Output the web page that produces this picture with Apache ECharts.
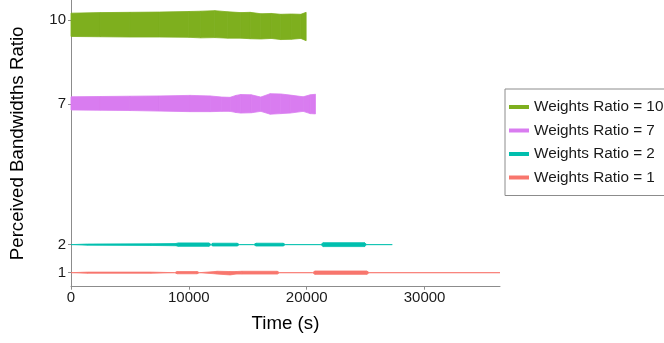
<!DOCTYPE html>
<html>
<head>
    <meta charset="utf-8">
    <title>Perceived Bandwidths Ratio</title>
    <script src="https://cdn.jsdelivr.net/npm/echarts@6/dist/echarts.min.js"></script>
</head>
<body style="margin:0">
<div id="main" style="width: 664px;height:343px;"></div>
<script type="text/javascript">
    // legend names and colours
    const seriesNames = ['Weights Ratio = 10', 'Weights Ratio = 7', 'Weights Ratio = 2', 'Weights Ratio = 1'];
    const seriesColors = ['#7EAF1E', '#D97CF0', '#00BFAE', '#F8766D'];

    // axis ticks
    const xTicks = [0, 10000, 20000, 30000];
    const yTicks = [1, 2, 7, 10];

    // each noisy trace is drawn as its envelope: time, upper edge, lower edge
    const r10Time = [0, 2500, 5000, 7500, 10000, 11000, 12200, 13300, 14400, 15200, 16100, 17000, 17800, 18700, 19500, 19950];
    const r10High = [10.25, 10.27, 10.28, 10.29, 10.31, 10.32, 10.34, 10.30, 10.27, 10.28, 10.23, 10.24, 10.21, 10.22, 10.21, 10.28];
    const r10Low  = [9.42, 9.41, 9.40, 9.40, 9.39, 9.37, 9.38, 9.36, 9.36, 9.34, 9.33, 9.35, 9.31, 9.32, 9.35, 9.27];

    const r7Time = [0, 2500, 5000, 7500, 10100, 11800, 12800, 13500, 14000, 14400, 15300, 16100, 16900, 17800, 18600, 19700, 20300, 20740];
    const r7High = [7.27, 7.28, 7.29, 7.30, 7.32, 7.30, 7.26, 7.25, 7.32, 7.35, 7.34, 7.26, 7.38, 7.37, 7.33, 7.27, 7.34, 7.36];
    const r7Low  = [6.80, 6.79, 6.78, 6.76, 6.74, 6.74, 6.75, 6.75, 6.71, 6.69, 6.70, 6.75, 6.65, 6.67, 6.69, 6.75, 6.67, 6.66];

    const r2Time = [0, 1400, 6800, 8900, 9100, 11700, 11900, 12000, 14100, 14300, 15500, 15700, 18000, 18200, 21200, 21400, 24900, 25100, 27260];
    const r2High = [2.00, 2.02, 2.03, 2.04, 2.06, 2.06, 2.00, 2.05, 2.05, 2.00, 2.00, 2.05, 2.05, 2.00, 2.00, 2.07, 2.07, 2.00, 2.00];
    const r2Low  = [2.00, 1.98, 1.97, 1.96, 1.94, 1.94, 2.00, 1.95, 1.95, 2.00, 2.00, 1.95, 1.95, 2.00, 2.00, 1.93, 1.93, 2.00, 2.00];

    const r1Time = [0, 1400, 6800, 8800, 9000, 10700, 10900, 12200, 12400, 13500, 14000, 14500, 17500, 17700, 20500, 20700, 25100, 25300, 36400];
    const r1High = [1.00, 1.02, 1.02, 1.00, 1.04, 1.04, 1.00, 1.04, 1.05, 1.04, 1.04, 1.05, 1.05, 1.00, 1.00, 1.06, 1.06, 1.00, 1.00];
    const r1Low  = [1.00, 0.98, 0.98, 1.00, 0.96, 0.96, 1.00, 0.96, 0.95, 0.92, 0.95, 0.95, 0.95, 1.00, 1.00, 0.94, 0.94, 1.00, 1.00];

    const traces = [
        [r10Time, r10High, r10Low],
        [r7Time, r7High, r7Low],
        [r2Time, r2High, r2Low],
        [r1Time, r1High, r1Low]
    ];

    // one custom series per trace: a filled strip between the two edges
    function bandSeries(idx) {
        const t = traces[idx][0], hi = traces[idx][1], lo = traces[idx][2];
        const color = seriesColors[idx];
        const data = t.map(function (x, i) { return [x, hi[i], lo[i]]; });
        return {
            name: seriesNames[idx],
            type: 'custom',
            silent: true,
            itemStyle: { color: color },
            encode: { x: 0, y: [1, 2] },
            data: data,
            renderItem: function (params, api) {
                const i = params.dataIndex;
                if (i >= data.length - 1) {
                    return null;
                }
                const a = data[i], b = data[i + 1];
                const pts = [
                    api.coord([a[0], a[1]]),
                    api.coord([b[0], b[1]]),
                    api.coord([b[0], b[2]]),
                    api.coord([a[0], a[2]])
                ];
                return {
                    type: 'polygon',
                    shape: { points: pts },
                    style: { fill: color, stroke: color, lineWidth: 0.8 }
                };
            }
        };
    }

    const series = [];
    for (let i = 0; i < traces.length; i++) {
        series.push(bandSeries(i));
    }

    const myChart = echarts.init(document.getElementById('main'));
    myChart.setOption({
        animation: false,
        textStyle: { fontFamily: 'Liberation Sans, Arial, sans-serif' },
        grid: { left: 70, right: 164, top: 0, bottom: 56.3 },
        legend: {
            data: seriesNames,
            orient: 'vertical',
            left: 505,
            top: 89,
            icon: 'rect',
            itemWidth: 20,
            itemHeight: 4,
            itemGap: 5.5,
            padding: [9, 30, 9, 4],
            borderColor: '#8c8c8c',
            borderWidth: 1,
            selectedMode: false,
            textStyle: { fontSize: 15.3, color: '#1a1a1a', lineHeight: 18 }
        },
        xAxis: {
            type: 'value',
            min: 0,
            max: 36400,
            interval: 10000,
            name: 'Time (s)',
            nameLocation: 'middle',
            nameGap: 28,
            nameTextStyle: { fontSize: 18.7, color: '#000' },
            axisLine: { lineStyle: { color: '#8c8c8c' } },
            axisTick: { show: true, length: 3, customValues: xTicks, lineStyle: { color: '#8c8c8c' } },
            axisLabel: {
                customValues: xTicks,
                fontSize: 15,
                color: '#1a1a1a',
                margin: 4,
                formatter: function (v) { return String(v); }
            },
            splitLine: { show: false }
        },
        yAxis: {
            type: 'value',
            min: 0.5,
            max: 10.72,
            name: 'Perceived Bandwidths Ratio',
            nameLocation: 'middle',
            nameGap: 44,
            nameTextStyle: { fontSize: 18.7, color: '#000' },
            axisLine: { show: true, lineStyle: { color: '#8c8c8c' } },
            axisTick: { show: true, length: 3, customValues: yTicks, lineStyle: { color: '#8c8c8c' } },
            axisLabel: {
                customValues: yTicks,
                fontSize: 15,
                color: '#1a1a1a',
                margin: 5
            },
            splitLine: { show: false }
        },
        series: series
    });
</script>
</body>
</html>
